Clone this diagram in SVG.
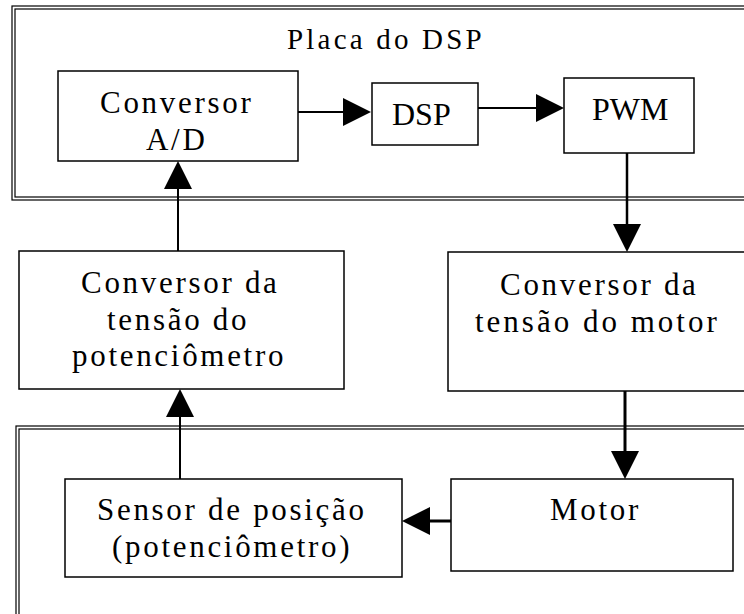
<svg xmlns="http://www.w3.org/2000/svg" width="744" height="614" viewBox="0 0 744 614">
<style>
.frame{fill:none;stroke:#000;stroke-width:1.2}
.box{fill:#fff;stroke:#000;stroke-width:1.5}
.t{font-family:"Liberation Serif","Times New Roman",serif;font-size:31px;letter-spacing:2.7px;fill:#000}
.tb{font-family:"Liberation Serif","Times New Roman",serif;font-size:32px;fill:#000}
.c{stroke:#000;fill:none;marker-end:url(#ah)}
</style>
<defs>
<marker id="ah" markerUnits="userSpaceOnUse" markerWidth="28" markerHeight="28" viewBox="0 0 28 28" refX="23" refY="14" orient="auto">
<path d="M0,0 L28,14 L0,28 Z" fill="#000"/>
</marker>
</defs>
<rect width="744" height="614" fill="#fff"/>
<g id="placa-dsp">
<rect class="frame" x="12" y="6" width="800" height="194"/>
<rect class="frame" x="15" y="9" width="800" height="188"/>
<text class="t" x="287" y="49" style="font-size:29px;letter-spacing:3.2px">Placa do DSP</text>
</g>
<g id="motor-frame">
<rect class="frame" x="16" y="426" width="800" height="300"/>
<rect class="frame" x="19" y="429" width="800" height="300"/>
</g>
<g id="conversor-ad">
<rect class="box" x="58" y="71" width="240" height="90"/>
<text class="t" x="100" y="113">Conversor</text>
<text class="t" x="146" y="150">A/D</text>
</g>
<g id="dsp">
<rect class="box" x="372" y="83" width="106" height="62"/>
<text class="tb" x="392" y="125">DSP</text>
</g>
<g id="pwm">
<rect class="box" x="564" y="78" width="130" height="75"/>
<text class="tb" x="592" y="120">PWM</text>
</g>
<g id="conversor-pot">
<rect class="box" x="19" y="251" width="325" height="138"/>
<text class="t" x="81" y="293">Conversor da</text>
<text class="t" x="107" y="330">tensão do</text>
<text class="t" x="72" y="366">potenciômetro</text>
</g>
<g id="conversor-motor">
<rect class="box" x="448" y="252" width="300" height="139"/>
<text class="t" x="500" y="295">Conversor da</text>
<text class="t" x="475" y="332" style="letter-spacing:3px">tensão do motor</text>
</g>
<g id="sensor">
<rect class="box" x="65" y="479" width="337" height="98"/>
<text class="t" x="97" y="520">Sensor de posição</text>
<text class="t" x="112" y="557">(potenciômetro)</text>
</g>
<g id="motor">
<rect class="box" x="451" y="479" width="282" height="92"/>
<text class="t" x="550" y="520">Motor</text>
</g>
<g id="connectors">
<line class="c" x1="298" y1="112" x2="366" y2="112" stroke-width="2"/>
<line class="c" x1="478" y1="108" x2="559" y2="108" stroke-width="2"/>
<line class="c" x1="627" y1="153" x2="627" y2="247" stroke-width="2.5"/>
<line class="c" x1="625" y1="391" x2="625" y2="474" stroke-width="3"/>
<line class="c" x1="451" y1="521" x2="407" y2="521" stroke-width="3"/>
<line class="c" x1="180" y1="479" x2="180" y2="394" stroke-width="2"/>
<line class="c" x1="178" y1="251" x2="178" y2="166" stroke-width="2"/>
</g>
</svg>
